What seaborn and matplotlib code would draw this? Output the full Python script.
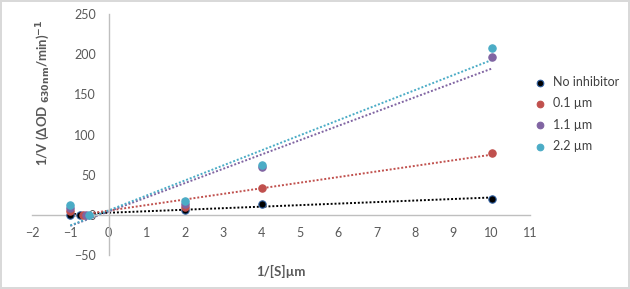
import numpy as np
import pandas as pd
import matplotlib
matplotlib.use('Agg')
from matplotlib import pyplot as plt
import seaborn as sns

# data (Lineweaver-Burk)
x_no_inhib = [-1, -0.75, 2, 4, 10]
x_inh_01 = [-1, -0.68, 2, 4, 10]
x_inh_11 = [-1, -0.58, 2, 4, 10]
x_inh_22 = [-1, -0.5, 2, 4, 10]
no_inhib = [0, 0, 6, 14, 20]
inh_01 = [5, 0, 10, 34, 77]
inh_11 = [8, 0, 13, 60, 196]
inh_22 = [12, 0, 17, 62, 208]
series_names = ['No inhibitor', '0.1 µm', '1.1 µm', '2.2 µm']
x_ticks = list(range(-2, 12))
y_ticks = list(range(-50, 251, 50))

colors = ['#000000', '#C0504D', '#8064A2', '#4BACC6']
edges = ['#2F5FA0', '#C0504D', '#8064A2', '#4BACC6']

rows = []
for name, xs, vals in zip(series_names,
                          [x_no_inhib, x_inh_01, x_inh_11, x_inh_22],
                          [no_inhib, inh_01, inh_11, inh_22]):
    for xv, yv in zip(xs, vals):
        rows.append({'x': xv, 'y': yv, 'series': name})
df = pd.DataFrame(rows)

sns.set_style('white')
plt.rcParams['font.family'] = ['Lato', 'DejaVu Sans']

fig = plt.figure(figsize=(6.3, 2.89), dpi=100)
fig.patch.set_edgecolor('#D9D9D9')
fig.patch.set_linewidth(1.5)
ax = fig.add_axes([32 / 630, 1 - 255 / 289, 498 / 630, 241 / 289])

# dotted linear trendlines
for name, c in zip(series_names, colors):
    sub = df[df['series'] == name]
    sns.regplot(data=sub, x='x', y='y', ax=ax, ci=None, scatter=False, truncate=True,
                line_kws=dict(color=c, lw=1.4, linestyle=(0, (1, 1))))

# points
for name, c, e in zip(series_names, colors, edges):
    sub = df[df['series'] == name]
    sns.scatterplot(data=sub, x='x', y='y', ax=ax, color=c, edgecolor=e, linewidth=0.8,
                    s=28, label=name, zorder=5)

ax.set_xlim(-2, 11)
ax.set_ylim(-50, 250)
ax.set_xticks(x_ticks)
ax.set_yticks(y_ticks)

ax.spines['left'].set_position(('data', 0))
ax.spines['bottom'].set_position(('data', 0))
ax.spines['right'].set_visible(False)
ax.spines['top'].set_visible(False)
for sp in ['left', 'bottom']:
    ax.spines[sp].set_color('#BFBFBF')
    ax.spines[sp].set_linewidth(1)
ax.tick_params(axis='both', which='major', length=4, width=1, color='#BFBFBF',
               labelsize=9, labelcolor='#595959', direction='out', pad=5)

ax.set_xlabel('1/[S]µm', fontsize=9.5, fontweight='bold', color='#595959')
ax.set_ylabel(r'1/V (ΔOD$_{\ \mathbf{630nm}}$/min)$^{\mathbf{-1}}$', fontsize=9.5,
              fontweight='bold', color='#595959')
ax.xaxis.set_label_coords(0.5, -0.04)
ax.yaxis.set_label_coords(0.04, 0.672)

ax.legend_.remove()
handles, labels = ax.get_legend_handles_labels()
fig.legend(handles, labels, loc='upper left', bbox_to_anchor=(522 / 630, 1 - 71 / 289),
           frameon=False, fontsize=9, labelcolor='#404040', handletextpad=0.1,
           labelspacing=0.75, markerscale=0.9, borderaxespad=0)

fig.savefig('out.png', dpi=100)
